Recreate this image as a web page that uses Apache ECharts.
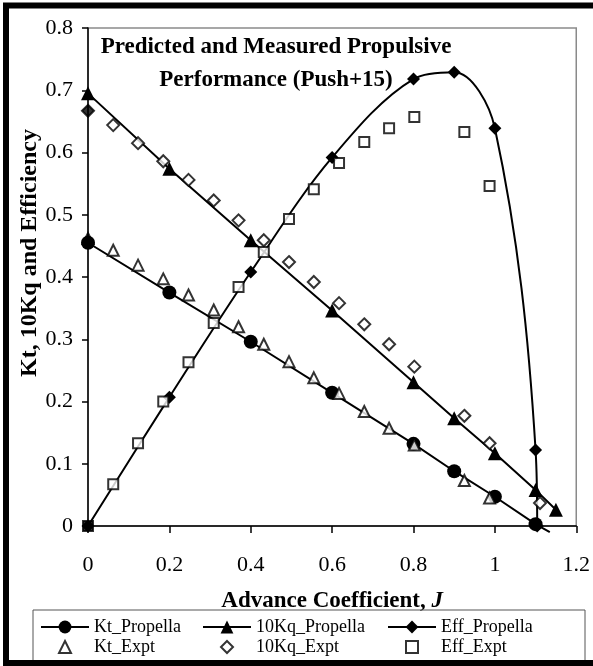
<!DOCTYPE html>
<html>
<head>
<meta charset="utf-8">
<script src="https://cdn.jsdelivr.net/npm/echarts@6/dist/echarts.min.js"></script>
<style>
  html, body { margin: 0; padding: 0; background: #fff; }
  #chart { width: 593px; height: 666px; }
</style>
</head>
<body>
<div id="chart"></div>
<script>
// predicted (Propella) results
var jPred   = [0, 0.2, 0.4, 0.6, 0.8, 0.9, 1.0, 1.1, 1.135];
var ktPred  = [0.455, 0.375, 0.296, 0.214, 0.132, 0.088, 0.047, 0.003, -0.01];
var jKq     = [0, 0.2, 0.4, 0.6, 0.8, 0.9, 1.0, 1.1, 1.15];
var kqPred  = [0.695, 0.574, 0.459, 0.346, 0.231, 0.173, 0.117, 0.058, 0.026];
var jEff    = [0, 0.2, 0.4, 0.6, 0.8, 0.9, 1.0, 1.1, 1.104];
var effPred = [0, 0.207, 0.408, 0.592, 0.718, 0.729, 0.639, 0.122, 0];

// measured (experiment) results
var jExpt   = [0, 0.062, 0.123, 0.185, 0.247, 0.309, 0.37, 0.432, 0.494, 0.555, 0.617, 0.679, 0.74, 0.802, 0.925, 0.987, 1.111];
var ktExpt  = [0.462, 0.443, 0.419, 0.397, 0.371, 0.347, 0.32, 0.292, 0.264, 0.238, 0.213, 0.184, 0.157, 0.13, 0.073, 0.045, null];
var kqExpt  = [0.667, 0.644, 0.615, 0.586, 0.556, 0.523, 0.491, 0.459, 0.424, 0.392, 0.358, 0.324, 0.292, 0.256, 0.177, 0.133, 0.037];
var effExpt = [0, 0.067, 0.133, 0.2, 0.263, 0.326, 0.384, 0.44, 0.493, 0.541, 0.583, 0.617, 0.639, 0.657, 0.633, 0.546, null];

var FONT = '"Liberation Serif", "Times New Roman", serif';

function pairs(xs, ys) {
  var out = [];
  for (var i = 0; i < xs.length; i++) {
    if (ys[i] == null) continue;
    out.push([xs[i], ys[i]]);
  }
  return out;
}
// last point of Kt line is only the tail of the line, no marker
function ktData() {
  var d = pairs(jPred, ktPred);
  d[d.length - 1] = { value: d[d.length - 1], symbol: 'none' };
  return d;
}
// J=0 test points look solid in the original
function exptData(ys) {
  return pairs(jExpt, ys).map(function (p) {
    if (p[0] === 0) return { value: p, itemStyle: { color: '#000' } };
    return p;
  });
}

var lineStyle = { color: '#000', width: 2 };
var openStyle = { color: '#fff', borderColor: '#000', borderWidth: 2 };
var legendText = { fontFamily: FONT, fontSize: 18, color: '#000', lineHeight: 20 };

// one legend per entry so the 3x2 layout is fixed
function lineLegend(name, left) {
  return { left: left, top: 612, itemWidth: 48, itemHeight: 16, data: [name],
           textStyle: legendText };
}
function markLegend(name, left) {
  return { left: left, top: 632, itemWidth: 12, itemHeight: 12, data: [name],
           textStyle: Object.assign({ padding: [0, 0, 0, 18] }, legendText) };
}

var chart = echarts.init(document.getElementById('chart'));
var option = {
  backgroundColor: '#fff',
  animation: false,
  textStyle: { fontFamily: FONT },
  grid: {
    left: 88, right: 15, top: 28, bottom: 140,
    show: true, borderColor: '#8a8a8a', borderWidth: 1.5, backgroundColor: 'transparent'
  },
  xAxis: {
    type: 'value', min: 0, max: 1.2, interval: 0.2,
    name: 'Advance Coefficient, {i|J}',
    nameLocation: 'middle', nameGap: 64, nameMoveOverlap: false,
    nameTextStyle: {
      fontFamily: FONT, fontSize: 23, fontWeight: 'bold', color: '#000',
      rich: { i: { fontFamily: FONT, fontSize: 23, fontWeight: 'bold', fontStyle: 'italic', color: '#000' } }
    },
    axisLine: { onZero: false, lineStyle: { color: '#000', width: 1.5 } },
    axisTick: { show: true, inside: false, length: 7, lineStyle: { color: '#000', width: 1.5 } },
    axisLabel: { fontFamily: FONT, fontSize: 22, color: '#000', margin: 28 },
    splitLine: { show: false }
  },
  yAxis: {
    type: 'value', min: 0, max: 0.8, interval: 0.1,
    name: 'Kt, 10Kq and Efficiency',
    nameLocation: 'middle', nameGap: 46, nameMoveOverlap: false,
    nameTextStyle: { fontFamily: FONT, fontSize: 24, fontWeight: 'bold', color: '#000', padding: [0, 0, 0, 48] },
    axisLine: { onZero: false, lineStyle: { color: '#000', width: 1.5 } },
    axisTick: { show: true, inside: false, length: 6, lineStyle: { color: '#000', width: 1.5 } },
    axisLabel: { fontFamily: FONT, fontSize: 22, color: '#000', margin: 15 },
    splitLine: { show: false }
  },
  legend: [
    lineLegend('Kt_Propella', 35),
    lineLegend('10Kq_Propella', 197),
    lineLegend('Eff_Propella', 382),
    markLegend('Kt_Expt', 53),
    markLegend('10Kq_Expt', 215),
    markLegend('Eff_Expt', 400)
  ],
  graphic: [
    { type: 'text', x: 276, y: 31,
      style: { text: 'Predicted and Measured Propulsive\nPerformance (Push+15)', fill: '#000',
               font: 'bold 23px ' + FONT, align: 'center', lineHeight: 33 },
      z: 10 },
    { type: 'rect', shape: { x: 33, y: 610, width: 552, height: 52 },
      style: { fill: 'none', stroke: '#555', lineWidth: 1 }, z: 5 },
    // outer frame; its right side falls outside the picture
    { type: 'rect', shape: { x: 6, y: 5.5, width: 620, height: 657.5 },
      style: { fill: 'none', stroke: '#000', lineWidth: 6 }, z: 20 }
  ],
  series: [
    { name: 'Kt_Propella', type: 'line', data: ktData(), symbol: 'circle', symbolSize: 14,
      lineStyle: lineStyle, itemStyle: { color: '#000' }, clip: false, z: 3 },
    { name: '10Kq_Propella', type: 'line', data: pairs(jKq, kqPred), symbol: 'triangle', symbolSize: 14,
      lineStyle: lineStyle, itemStyle: { color: '#000' }, z: 3 },
    { name: 'Eff_Propella', type: 'line', data: pairs(jEff, effPred), symbol: 'diamond', symbolSize: 13,
      smooth: 0.35, lineStyle: lineStyle, itemStyle: { color: '#000' }, z: 3 },
    { name: 'Kt_Expt', type: 'scatter', data: exptData(ktExpt), symbol: 'triangle', symbolSize: 11,
      itemStyle: openStyle, z: 4 },
    { name: '10Kq_Expt', type: 'scatter', data: exptData(kqExpt), symbol: 'diamond', symbolSize: 12,
      itemStyle: openStyle, z: 4 },
    { name: 'Eff_Expt', type: 'scatter', data: exptData(effExpt), symbol: 'rect', symbolSize: 10,
      itemStyle: openStyle, z: 4 }
  ]
};
chart.setOption(option);
</script>
</body>
</html>
